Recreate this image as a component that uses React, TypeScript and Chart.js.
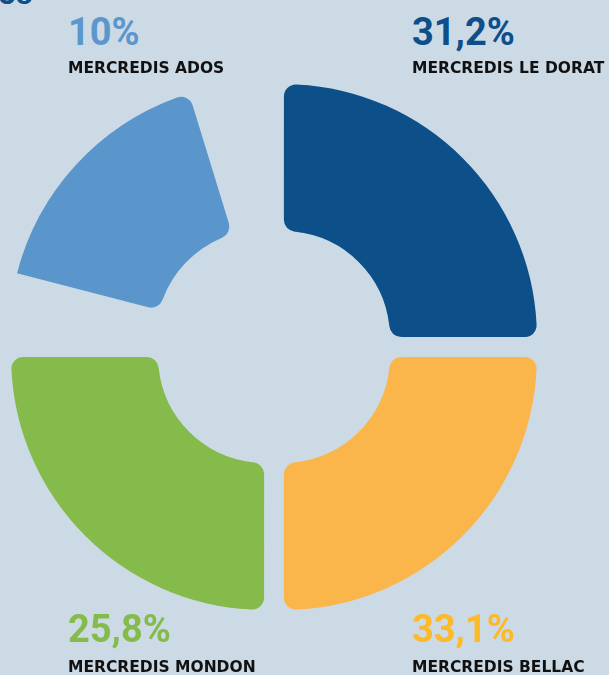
import React, { useEffect, useRef } from "react";
import { Chart, registerables } from "chart.js";

Chart.register(...registerables);

// Categories (clockwise from 12 o'clock); empty names are transparent spacers
const categories = ["MERCREDIS LE DORAT", "MERCREDIS BELLAC", "MERCREDIS MONDON", "", "MERCREDIS ADOS", ""];
// Share labels shown as text
const shareLabels = ["31,2%", "33,1%", "25,8%", "10%"];
// Angular size of each drawn slice (degrees)
const sliceDegrees = [90, 90, 90, 14.5, 58.5, 17];
const sliceColors = ["#0c4f89", "#fbb64b", "#84bb4b", "rgba(0,0,0,0)", "#5a95cc", "rgba(0,0,0,0)"];
const textColors = ["#0d4f8b", "#fcb928", "#84bb4b", "#5b96cc"];

const BG = "#ccdae5";

export default function App() {
  const ref = useRef<HTMLCanvasElement | null>(null);

  useEffect(() => {
    if (!ref.current) return;
    const chart = new Chart(ref.current, {
      type: "doughnut",
      data: {
        labels: categories,
        datasets: [
          {
            data: sliceDegrees,
            backgroundColor: sliceColors,
            borderWidth: 0,
            offset: 56,
            hoverOffset: 56,
            borderRadius: (ctx: any) =>
              ctx.dataIndex === 4
                ? { outerStart: 0, outerEnd: 12, innerStart: 12, innerEnd: 12 }
                : 12,
          } as any,
        ],
      },
      options: {
        responsive: false,
        animation: false,
        events: [],
        radius: 253,
        cutout: "41.9%",
        rotation: 0,
        layout: { padding: 0 },
        plugins: {
          legend: { display: false },
          tooltip: { enabled: false },
        },
      } as any,
    });
    return () => chart.destroy();
  }, []);

  const numStyle = (left: number, top: number, color: string): React.CSSProperties => ({
    position: "absolute",
    left,
    top,
    fontFamily: "Roboto",
    fontWeight: 700,
    fontSize: 38,
    lineHeight: 1,
    color,
    whiteSpace: "nowrap",
  });
  const labStyle = (left: number, top: number): React.CSSProperties => ({
    position: "absolute",
    left,
    top,
    fontFamily: "'DejaVu Sans'",
    fontWeight: 700,
    fontSize: 15.5,
    lineHeight: 1,
    color: "#111111",
    whiteSpace: "nowrap",
  });

  return (
    <div
      style={{
        position: "fixed",
        left: 0,
        top: 0,
        width: 609,
        height: 675,
        background: BG,
        overflow: "hidden",
      }}
    >
      <div
        style={{
          position: "absolute",
          left: -2,
          top: -23,
          fontFamily: "Roboto",
          fontWeight: 700,
          fontSize: 32,
          lineHeight: 1,
          color: "#0c4f89",
        }}
      >
        os
      </div>
      <canvas
        ref={ref}
        width={548}
        height={548}
        style={{ position: "absolute", left: 0, top: 73, width: 548, height: 548 }}
      />
      <div style={numStyle(68, 13, textColors[3])}>{shareLabels[3]}</div>
      <div style={labStyle(68, 61)}>{categories[4]}</div>
      <div style={numStyle(412, 13, textColors[0])}>{shareLabels[0]}</div>
      <div style={labStyle(412, 61)}>{categories[0]}</div>
      <div style={numStyle(68, 610, textColors[2])}>{shareLabels[2]}</div>
      <div style={labStyle(68, 660)}>{categories[2]}</div>
      <div style={numStyle(412, 610, textColors[1])}>{shareLabels[1]}</div>
      <div style={labStyle(412, 660)}>{categories[1]}</div>
    </div>
  );
}
